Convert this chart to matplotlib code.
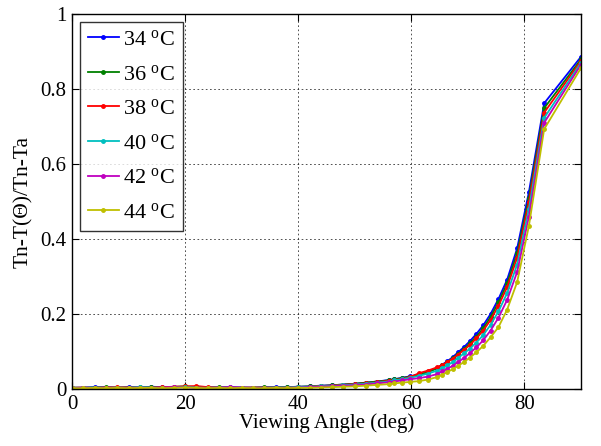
#!/usr/bin/env python3
"""Normalised temperature contrast vs viewing angle, one curve per temperature.

Writes out.png (601x446). MATLAB-ish look: boxed axes, dotted grid, ticks in.
"""

import matplotlib

matplotlib.use("Agg")

import matplotlib.pyplot as plt

# ── data ─────────────────────────────────────────────────────────────────────
ANGLE = [0, 2, 4, 6, 8, 10, 12, 14, 16, 18, 20, 22, 24, 26, 28, 30, 32, 34, 36, 38,
         40, 42, 44, 46, 48, 50, 52, 54, 56,
         57.00, 58.39, 59.83, 61.33, 62.91, 64.59, 65.46, 66.37, 67.31, 68.28,
         69.31, 70.38, 71.51, 72.72, 74.01, 75.41, 76.95, 78.71, 80.79, 83.49, 90.0]

T34 = [0.003, 0.004, 0.005, 0.004, 0.003, 0.005, 0.004, 0.006, 0.005, 0.004,
       0.006, 0.005, 0.004, 0.004, 0.005, 0.004, 0.003, 0.004, 0.005, 0.005,
       0.006, 0.007, 0.009, 0.010, 0.012, 0.014, 0.017, 0.020, 0.024,
       0.026, 0.030, 0.034, 0.039, 0.046, 0.057, 0.065, 0.074, 0.085, 0.098,
       0.112, 0.128, 0.147, 0.170, 0.200, 0.240, 0.292, 0.375, 0.525, 0.762, 0.886]
T36 = [0.004, 0.003, 0.004, 0.005, 0.004, 0.004, 0.005, 0.005, 0.004, 0.006,
       0.007, 0.005, 0.004, 0.005, 0.004, 0.003, 0.004, 0.005, 0.004, 0.005,
       0.006, 0.007, 0.008, 0.010, 0.012, 0.014, 0.017, 0.020, 0.023,
       0.026, 0.029, 0.033, 0.038, 0.045, 0.055, 0.063, 0.072, 0.082, 0.094,
       0.107, 0.122, 0.140, 0.162, 0.192, 0.231, 0.282, 0.362, 0.510, 0.749, 0.879]
T38 = [0.003, 0.004, 0.003, 0.004, 0.005, 0.004, 0.003, 0.004, 0.005, 0.006,
       0.007, 0.008, 0.005, 0.004, 0.003, 0.004, 0.004, 0.003, 0.004, 0.004,
       0.005, 0.006, 0.008, 0.009, 0.011, 0.013, 0.015, 0.018, 0.022,
       0.024, 0.027, 0.032, 0.042, 0.049, 0.058, 0.064, 0.072, 0.081, 0.092,
       0.104, 0.118, 0.135, 0.156, 0.184, 0.222, 0.272, 0.350, 0.498, 0.737, 0.875]
T40 = [0.003, 0.003, 0.004, 0.003, 0.004, 0.003, 0.005, 0.004, 0.003, 0.004,
       0.005, 0.004, 0.003, 0.004, 0.003, 0.004, 0.003, 0.003, 0.004, 0.004,
       0.005, 0.006, 0.007, 0.008, 0.010, 0.012, 0.014, 0.017, 0.020,
       0.023, 0.026, 0.030, 0.035, 0.041, 0.049, 0.055, 0.063, 0.072, 0.083,
       0.095, 0.108, 0.124, 0.144, 0.171, 0.207, 0.256, 0.332, 0.480, 0.723, 0.870]
T42 = [0.002, 0.003, 0.003, 0.004, 0.003, 0.003, 0.004, 0.003, 0.004, 0.005,
       0.004, 0.003, 0.003, 0.004, 0.005, 0.004, 0.003, 0.004, 0.003, 0.003,
       0.004, 0.005, 0.006, 0.007, 0.009, 0.010, 0.012, 0.015, 0.018,
       0.020, 0.023, 0.026, 0.029, 0.033, 0.040, 0.047, 0.054, 0.062, 0.072,
       0.083, 0.096, 0.111, 0.130, 0.156, 0.190, 0.238, 0.312, 0.460, 0.710, 0.865]
T44 = [0.002, 0.002, 0.003, 0.002, 0.003, 0.002, 0.003, 0.003, 0.002, 0.003,
       0.004, 0.003, 0.002, 0.003, 0.002, 0.003, 0.002, 0.002, 0.003, 0.002,
       0.003, 0.003, 0.004, 0.005, 0.006, 0.007, 0.009, 0.011, 0.013,
       0.015, 0.017, 0.019, 0.021, 0.025, 0.032, 0.038, 0.045, 0.053, 0.062,
       0.072, 0.084, 0.098, 0.115, 0.138, 0.165, 0.212, 0.285, 0.435, 0.693, 0.856]

LABELS = ["34", "36", "38", "40", "42", "44"]
X_TICKS = [0, 20, 40, 60, 80]
Y_TICKS = [0, 0.2, 0.4, 0.6, 0.8, 1.0]
Y_TICK_LABELS = ["0", "0.2", "0.4", "0.6", "0.8", "1"]

# MATLAB default line colours
COLORS = ["#0000ff", "#008000", "#ff0000", "#00bfbf", "#bf00bf", "#bfbf00"]

plt.rcParams["font.family"] = ["Liberation Serif", "DejaVu Serif"]
plt.rcParams["mathtext.fontset"] = "custom"
plt.rcParams["mathtext.rm"] = "Liberation Serif"
plt.rcParams["mathtext.it"] = "Liberation Serif:italic"


def main():
    fig = plt.figure(figsize=(6.01, 4.46), dpi=100)
    ax = fig.add_axes([0.1198, 0.1278, 0.8469, 0.8408])

    for temp, ys, color in zip(LABELS, [T34, T36, T38, T40, T42, T44], COLORS):
        ax.plot(ANGLE, ys, color=color, linewidth=1.3, marker=".", markersize=5,
                label=temp + r" $^{\rm o}$C")

    ax.set_xlim(0, 90)
    ax.set_ylim(0, 1)
    ax.set_xticks(X_TICKS)
    ax.set_yticks(Y_TICKS)
    ax.set_yticklabels(Y_TICK_LABELS)
    ax.tick_params(direction="in", top=True, right=True, length=5, width=0.8,
                   labelsize=15, pad=4)
    ax.grid(True, color="black", linestyle=(0, (2, 3)), linewidth=0.6, alpha=0.8)
    for sp in ax.spines.values():
        sp.set_linewidth(1.0)

    ax.set_xlabel("Viewing Angle (deg)", fontsize=15, labelpad=0)
    ax.set_ylabel("Tn-T(\u0398)/Tn-Ta", fontsize=15.5, labelpad=5)

    leg = ax.legend(loc="upper left", fontsize=16, frameon=True, fancybox=False,
                    edgecolor="black", handlelength=1.4, handletextpad=0.2,
                    labelspacing=0.63, borderaxespad=0.35, borderpad=0.35)
    leg.get_frame().set_linewidth(1.0)

    fig.savefig("out.png", dpi=100)
    plt.close(fig)


if __name__ == "__main__":
    main()
